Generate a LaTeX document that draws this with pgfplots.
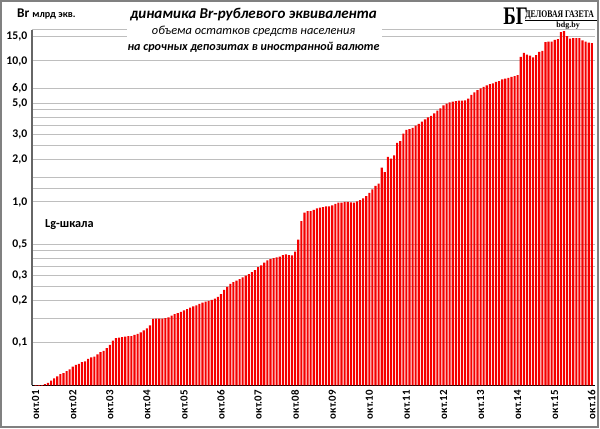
\documentclass[border=0pt]{standalone}
\usepackage{pgfplots}
\pgfplotsset{compat=1.18}
\usepackage{pgfplotstable}
\usepackage{fontspec}
\setmainfont{Carlito}
\setsansfont{Carlito}
\newfontfamily\logofont{Liberation Serif}
\definecolor{gridgray}{RGB}{190,190,190}
\definecolor{barred}{RGB}{245,0,0}

\pgfplotstableread{
i v
0 0.044
1 0.046
2 0.048
3 0.051
4 0.052
5 0.054
6 0.056
7 0.058
8 0.060
9 0.061
10 0.063
11 0.065
12 0.068
13 0.070
14 0.071
15 0.073
16 0.074
17 0.077
18 0.079
19 0.080
20 0.083
21 0.086
22 0.088
23 0.092
24 0.097
25 0.104
26 0.108
27 0.109
28 0.110
29 0.111
30 0.112
31 0.112
32 0.114
33 0.116
34 0.119
35 0.123
36 0.127
37 0.133
38 0.148
39 0.149
40 0.149
41 0.149
42 0.150
43 0.152
44 0.156
45 0.160
46 0.163
47 0.166
48 0.170
49 0.174
50 0.178
51 0.182
52 0.185
53 0.189
54 0.193
55 0.196
56 0.199
57 0.202
58 0.206
59 0.212
60 0.222
61 0.238
62 0.250
63 0.262
64 0.270
65 0.277
66 0.284
67 0.292
68 0.300
69 0.308
70 0.318
71 0.328
72 0.345
73 0.355
74 0.372
75 0.385
76 0.393
77 0.400
78 0.405
79 0.410
80 0.420
81 0.425
82 0.420
83 0.418
84 0.445
85 0.540
86 0.730
87 0.840
88 0.860
89 0.860
90 0.880
91 0.900
92 0.910
93 0.920
94 0.930
95 0.930
96 0.945
97 0.970
98 0.990
99 0.990
100 1.000
101 1.000
102 0.995
103 0.990
104 1.010
105 1.030
106 1.060
107 1.100
108 1.160
109 1.230
110 1.300
111 1.350
112 1.750
113 1.630
114 2.090
115 2.030
116 2.140
117 2.620
118 2.700
119 3.050
120 3.250
121 3.280
122 3.350
123 3.480
124 3.580
125 3.720
126 3.850
127 3.980
128 4.080
129 4.250
130 4.450
131 4.620
132 4.850
133 4.980
134 5.080
135 5.150
136 5.200
137 5.240
138 5.240
139 5.260
140 5.400
141 5.750
142 6.000
143 6.200
144 6.400
145 6.550
146 6.700
147 6.850
148 6.950
149 7.100
150 7.200
151 7.400
152 7.500
153 7.600
154 7.700
155 7.800
156 7.950
157 10.70
158 11.40
159 11.10
160 10.90
161 10.60
162 11.00
163 11.60
164 11.80
165 13.60
166 13.70
167 13.70
168 14.10
169 14.30
170 16.00
171 16.30
172 15.00
173 14.40
174 14.50
175 14.50
176 14.50
177 14.00
178 13.70
179 13.50
180 13.40
}\deptable

\begin{document}
\begin{tikzpicture}[x=0.75pt,y=0.75pt]
\fill[white] (0,0) rectangle (600,429);
\begin{axis}[
  at={(24pt,32.25pt)}, anchor=south west,
  scale only axis, width=423pt, height=267pt,
  ymode=log, log origin y=infty,
  xmin=-1.2, xmax=181.05, ymin=0.05, ymax=16.6,
  axis x line=bottom, axis y line=left,
  axis line style={-},
  x axis line style={black, line width=1.1pt},
  y axis line style={black!60, line width=1pt},
  ytick={0.1,0.2,0.3,0.5,1,2,3,5,6.35,10,15},
  yticklabels={{0,1},{0,2},{0,3},{0,5},{1,0},{2,0},{3,0},{5,0},{6,0},{10,0},{15,0}},
  minor ytick={0.15,0.25,0.35,0.4,0.45,1.25,1.5,2.5,3.5,4,4.5,16.6},
  ymajorgrids, yminorgrids,
  major grid style={gridgray, line width=0.75pt},
  minor grid style={gridgray, line width=0.75pt},
  xtick={0,12,...,180},
  xticklabels={окт.01,окт.02,окт.03,окт.04,окт.05,окт.06,окт.07,окт.08,окт.09,окт.10,окт.11,окт.12,окт.13,окт.14,окт.15,окт.16},
  x tick label style={rotate=90, anchor=east, font=\bfseries\fontsize{8.2}{9}\selectfont},
  y tick label style={font=\bfseries\fontsize{8.8}{10}\selectfont, /pgf/number format/assume math mode=true},
  major tick length=0pt, minor tick length=0pt,
]
\addplot[ybar, bar width=0.68, fill=barred, draw=none] table[x=i,y=v] {\deptable};
\end{axis}
% title box
\fill[white] (127,373) rectangle (383,429);
\node[font=\bfseries\itshape\fontsize{11.3}{13}\selectfont] at (254,414.5) {динамика Br-рублевого эквивалента};
\node[font=\itshape\fontsize{9.3}{11}\selectfont] at (254,398) {объема остатков средств населения};
\node[font=\bfseries\itshape\fontsize{9.1}{11}\selectfont] at (254,382) {на срочных депозитах в иностранной валюте};
% units
\node[anchor=base west, inner sep=0pt] at (17,411) {\bfseries\fontsize{10}{12}\selectfont Br \fontsize{7.6}{9}\selectfont млрд экв.};
% lg
\node[anchor=base west, inner sep=0pt, font=\bfseries\fontsize{9.2}{11}\selectfont] at (45,201) {Lg-шкала};
% logo
\node[anchor=base west, inner sep=0pt, font=\logofont\bfseries\fontsize{19}{20}\selectfont, xscale=0.75] at (504,404) {БГ};
\node[anchor=base west, inner sep=0pt, font=\logofont\bfseries\fontsize{7.6}{9}\selectfont, xscale=0.76] at (526,411) {ДЕЛОВАЯ ГАЗЕТА};
\draw[black, line width=0.5pt] (526,409) -- (598,409);
\node[anchor=base, inner sep=0pt, font=\logofont\bfseries\fontsize{6}{7}\selectfont] at (569,401) {bdg.by};
% frame
\draw[gray, line width=1.5pt] (1,1) rectangle (599,428);
\end{tikzpicture}
\end{document}
